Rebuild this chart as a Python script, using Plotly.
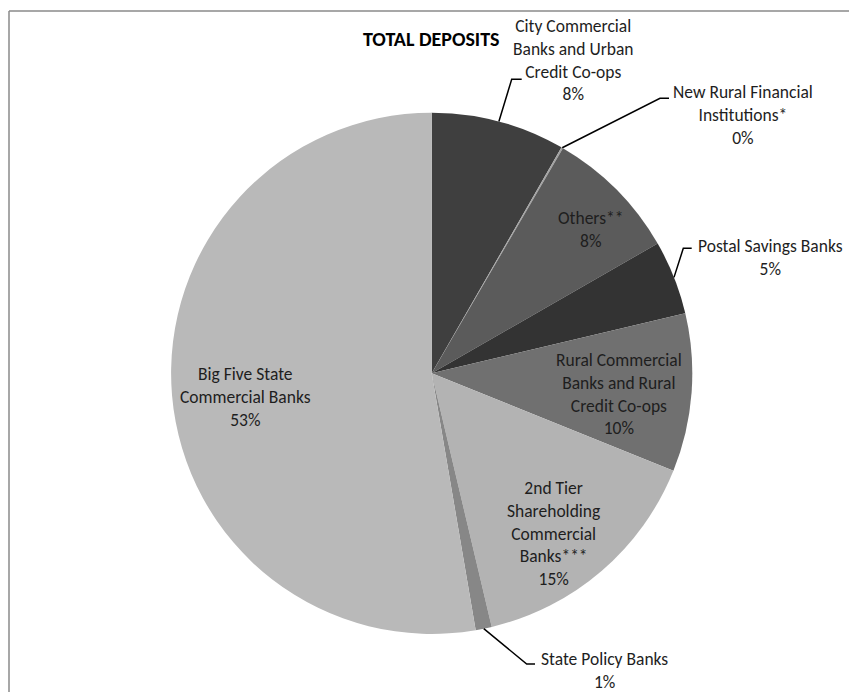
import math
import plotly.graph_objects as go

# ---- data ----
categories = [
    "City Commercial Banks and Urban Credit Co-ops",
    "New Rural Financial Institutions*",
    "Others**",
    "Postal Savings Banks",
    "Rural Commercial Banks and Rural Credit Co-ops",
    "2nd Tier Shareholding Commercial Banks***",
    "State Policy Banks",
    "Big Five State Commercial Banks",
]
shares = [8.3, 0.1, 8.3, 4.6, 9.8, 15.2, 1.0, 52.7]
label_lines = [
    "City Commercial<br>Banks and Urban<br>Credit Co-ops",
    "New Rural Financial<br>Institutions*",
    "Others**",
    "Postal Savings Banks",
    "Rural Commercial<br>Banks and Rural<br>Credit Co-ops",
    "2nd Tier<br>Shareholding<br>Commercial<br>Banks***",
    "State Policy Banks",
    "Big Five State<br>Commercial Banks",
]
title_text = "TOTAL DEPOSITS"

# ---- styles ----
W, H = 849, 692
colors = ["#3f3f3f", "#a3a3a3", "#5b5b5b", "#333333", "#707070", "#b3b3b3", "#878787", "#b9b9b9"]
CX, CY, R = 431.7, 373.3, 260.6
# label centres (page pixels)
label_pos = [(573, 60), (743, 114.7), (590, 229), (770, 257.5), (619, 393.7),
             (553, 533.3), (604, 670), (245, 396.7)]
# leader lines: (elbow, end) or None
leaders = [((511.7, 79.3), (521.7, 79.3)), ((660, 98.3), (669, 98.3)), None,
           ((683.3, 248.3), (691.7, 248.3)), None, None,
           ((526.7, 664), (535, 664)), None]
FONT = "Carlito, Lato, sans-serif"
FS = 17.5
TXT = "#1e1e1e"


def px(x):
    return x / W


def py(y):
    return 1 - y / H


fig = go.Figure(go.Pie(
    labels=categories, values=shares, sort=False, direction="clockwise", rotation=0,
    marker=dict(colors=colors, line=dict(width=0)), textinfo="none", hoverinfo="label+percent",
    showlegend=False,
    domain=dict(x=[px(CX - R), px(CX + R)], y=[py(CY + R), py(CY - R)]),
))

total = sum(shares)
annotations = []
shapes = []
cum = 0.0
for i, v in enumerate(shares):
    mid = (cum + v / 2) / total * 2 * math.pi
    cum += v
    pct = f"{round(v / total * 100)}%"
    lx, ly = label_pos[i]
    annotations.append(dict(
        x=px(lx), y=py(ly), xref="paper", yref="paper", text=f"{label_lines[i]}<br>{pct}",
        showarrow=False, xanchor="center", yanchor="middle", align="center",
        font=dict(family=FONT, size=FS, color=TXT),
    ))
    if leaders[i] is not None:
        sx = CX + R * math.sin(mid)
        sy = CY - R * math.cos(mid)
        (ex, ey), (fx, fy) = leaders[i]
        shapes.append(dict(
            type="path", xref="paper", yref="paper",
            path=f"M {px(sx)} {py(sy)} L {px(ex)} {py(ey)} L {px(fx)} {py(fy)}",
            line=dict(color="#000000", width=1.5),
        ))

annotations.append(dict(
    x=px(431.5), y=py(38.5), xref="paper", yref="paper", text=f"<b>{title_text}</b>",
    showarrow=False, xanchor="center", yanchor="middle",
    font=dict(family=FONT, size=20, color="#000000"),
))

# chart frame (top and left edges visible)
shapes.append(dict(type="line", xref="paper", yref="paper", x0=px(9), y0=py(11), x1=1.0, y1=py(11),
                   line=dict(color="#8a8a8a", width=1.5)))
shapes.append(dict(type="line", xref="paper", yref="paper", x0=px(9), y0=py(11), x1=px(9), y1=0.0,
                   line=dict(color="#8a8a8a", width=1.5)))

fig.update_layout(
    width=W, height=H, margin=dict(l=0, r=0, t=0, b=0),
    paper_bgcolor="white", plot_bgcolor="white",
    annotations=annotations, shapes=shapes,
)

fig.write_html(
    "out.html",
    config={"displayModeBar": False},
    post_script="document.body.style.margin='0px';document.body.style.overflow='hidden';",
)
